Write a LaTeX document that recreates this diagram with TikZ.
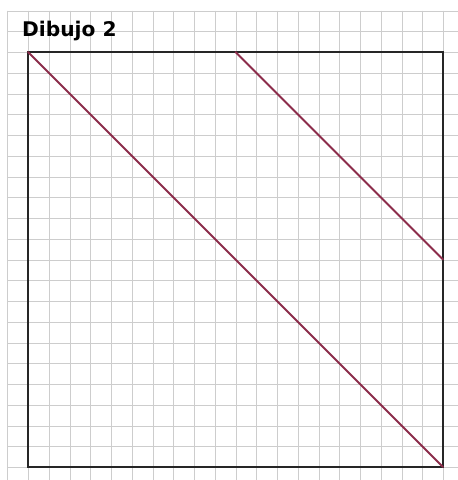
\documentclass[tikz,border=0pt]{standalone}
\usepackage{fontspec}
\newfontfamily\titlefont{DejaVu Sans}
\definecolor{gridgray}{RGB}{205,205,205}
\definecolor{diagred}{RGB}{140,45,75}
\begin{document}
\begin{tikzpicture}[x=1pt,y=-1pt,
  gridline/.style={gridgray,line width=1.2pt},
  frame/.style={black!85,line width=2pt},
  diag/.style={diagred,line width=2pt,line cap=round}]
\useasboundingbox[fill=white] (0,0) rectangle (458,480);
% grid
\foreach \k in {0,...,21} {
  \pgfmathsetmacro{\gx}{round(7.25+\k*20.75)+0.5}
  \draw[gridline] (\gx,10.5) -- (\gx,480);
}
\foreach \k in {0,...,22} {
  \pgfmathsetmacro{\gy}{round(10.5+\k*20.75)+0.5}
  \draw[gridline] (7.5,\gy) -- (458,\gy);
}
% title
\node[anchor=base west,inner sep=0pt,font=\titlefont\bfseries\fontsize{20.2}{21}\selectfont] (title) at (22,36) {Dibujo 2};
% square
\coordinate (tl) at (28,52);
\coordinate (tr) at (443,52);
\coordinate (br) at (443,467);
\coordinate (bl) at (28,467);
\coordinate (tm) at (235.5,52);
\coordinate (rm) at (443,259.5);
\draw[frame] (tl) -- (tr) -- (br) -- (bl) -- cycle;
% diagonals
\draw[diag] (tl) -- (br);
\draw[diag] (tm) -- (rm);
\end{tikzpicture}
\end{document}
